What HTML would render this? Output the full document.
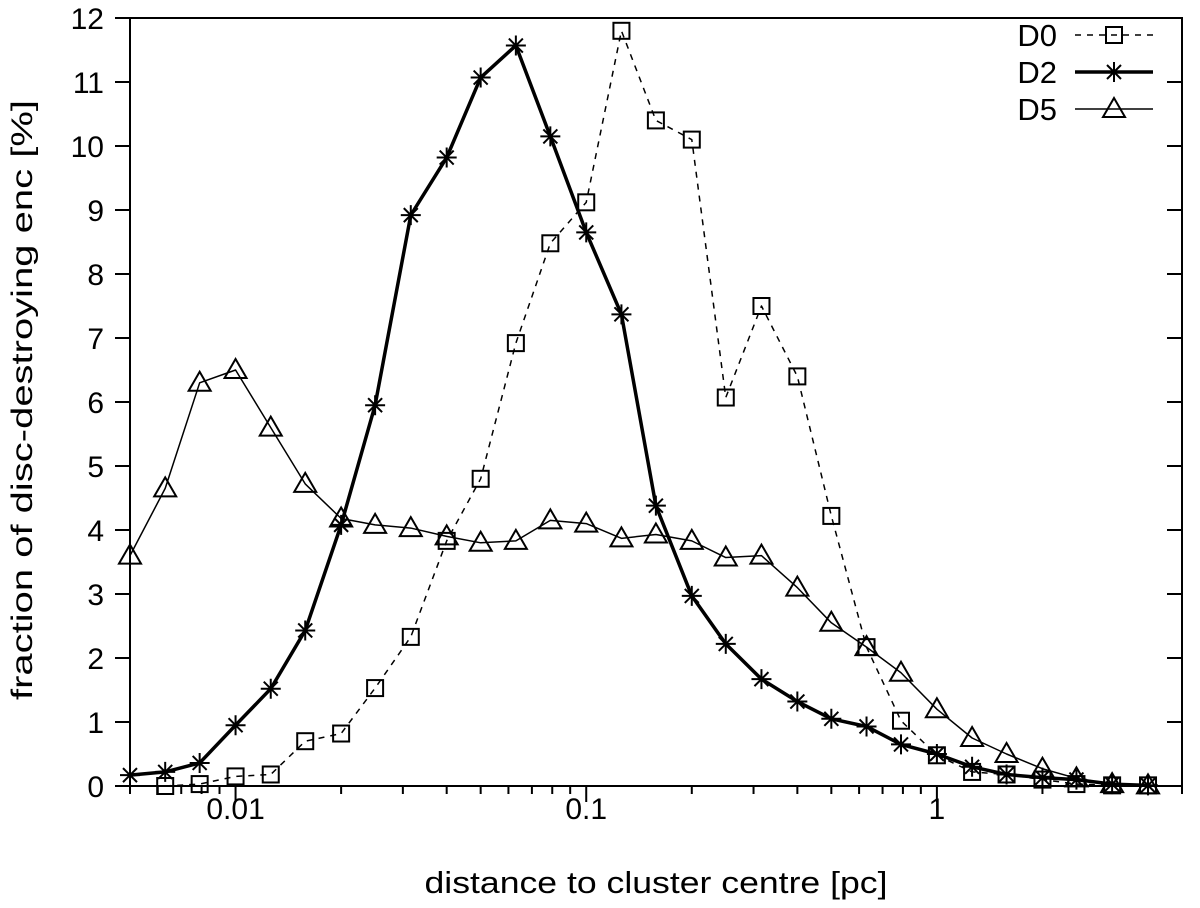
<!DOCTYPE html>
<html><head><meta charset="utf-8"><style>
body{margin:0;background:#fff}
svg{display:block;font-family:"Liberation Sans",Helvetica,sans-serif}
</style></head><body>
<svg id="chart" width="1200" height="908" viewBox="0 0 1200 908">
<g id="axes"></g>
<g id="series"></g>
<g id="legend"></g>
<text x="656" y="893" font-size="31" text-anchor="middle" textLength="463" lengthAdjust="spacingAndGlyphs">distance to cluster centre [pc]</text>
<text transform="translate(32,400) rotate(-90)" font-size="30" text-anchor="middle" textLength="600" lengthAdjust="spacingAndGlyphs">fraction of disc-destroying enc [%]</text>
</svg>
<script>
const xs = [0.005,0.0063,0.0079,0.01,0.0126,0.0158,0.02,0.025,0.0316,0.04,0.05,0.063,0.079,0.1,0.126,0.158,0.2,0.25,0.316,0.4,0.5,0.63,0.79,1,1.26,1.58,2,2.5,3.16,4];
const d0x = xs.slice(1);
const d0 = [0,0.03,0.15,0.18,0.7,0.82,1.53,2.33,3.83,4.8,6.92,8.48,9.12,11.8,10.4,10.1,6.07,7.5,6.4,4.22,2.17,1.02,0.48,0.22,0.18,0.1,0.03,0.01,0.01];
const d2 = [0.17,0.22,0.36,0.95,1.52,2.43,4.08,5.95,8.92,9.82,11.07,11.57,10.15,8.65,7.37,4.38,2.97,2.22,1.67,1.32,1.05,0.93,0.65,0.5,0.3,0.18,0.13,0.1,0.03,0.01];
const d5 = [3.6,4.65,6.3,6.5,5.6,4.72,4.18,4.08,4.03,3.9,3.8,3.83,4.15,4.1,3.87,3.93,3.83,3.57,3.6,3.1,2.55,2.17,1.77,1.2,0.75,0.5,0.27,0.12,0.03,0.01];
const yTicks = [0,1,2,3,4,5,6,7,8,9,10,11,12];
const xMajor = [0.01,0.1,1];
const xMajorLabels = ["0.01","0.1","1"];

const L=130,R=1182,T=18,B=786,xmin=0.005,xmax=5,ymax=12;
const X=v=>L+(Math.log10(v)-Math.log10(xmin))/(Math.log10(xmax)-Math.log10(xmin))*(R-L);
const Y=v=>B-v/ymax*(B-T);
const NS="http://www.w3.org/2000/svg";
function mk(tag,attrs,parent){const e=document.createElementNS(NS,tag);for(const k in attrs)e.setAttribute(k,attrs[k]);parent.appendChild(e);return e;}
const axes=document.getElementById('axes'),series=document.getElementById('series'),legend=document.getElementById('legend');

let f=mk('rect',{x:L,y:T,width:R-L,height:B-T,fill:'none',stroke:'#000','stroke-width':2},axes);


yTicks.forEach(v=>{
  const y=Y(v);
  let t=mk('line',{x1:L-15,x2:L,y1:y,y2:y,stroke:'#000','stroke-width':2},axes);
  
  
  mk('line',{x1:R-15,x2:R,y1:y,y2:y,stroke:'#000','stroke-width':2},axes);
  let tx=mk('text',{x:L-26,y:y+11,'font-size':30,'text-anchor':'end'},axes);
  tx.textContent=v;
  
  
});
for(let e=-3;e<=0;e++){for(let m=1;m<=9;m++){const v=m*Math.pow(10,e);if(v<xmin||v>xmax)continue;
  const x=X(v);const major=(m===1);
  let t=mk('line',{x1:x,x2:x,y1:B,y2:B+(major?16:8),stroke:'#000','stroke-width':2},axes);
  
  
}}
xMajor.forEach((v,i)=>{
  let tx=mk('text',{x:X(v),y:B+33,'font-size':30,'text-anchor':'middle'},axes);
  tx.textContent=xMajorLabels[i];
  
  
});

function marker(type,x,y,g){
  if(type==='sq')mk('rect',{x:x-8,y:y-8,width:16,height:16,fill:'none',stroke:'#000','stroke-width':2},g);
  else if(type==='star'){const r=10;mk('path',{d:`M${x-r} ${y}H${x+r}M${x} ${y-r}V${y+r}M${x-7} ${y-7}L${x+7} ${y+7}M${x-7} ${y+7}L${x+7} ${y-7}`,stroke:'#000','stroke-width':2},g);}
  else mk('path',{d:`M${x} ${y-11}L${x+11} ${y+8}L${x-11} ${y+8}Z`,fill:'none',stroke:'#000','stroke-width':2},g);
}
function draw(name,xv,yv,type,sw,dash){
  const g=mk('g',{},series);
  
  
  const pts=xv.map((x,i)=>X(x)+','+Y(yv[i])).join(' ');
  const pl=mk('polyline',{points:pts,fill:'none',stroke:'#000','stroke-width':sw,'stroke-dasharray':dash||'none','stroke-linejoin':'round'},g);
  
  
  xv.forEach((x,i)=>marker(type,X(x),Y(yv[i]),g));
}
draw('series-d5',xs,d5,'tri',1.5);
draw('series-d0',d0x,d0,'sq',1.5,'6 6');
draw('series-d2',xs,d2,'star',3.5);

[['D0','sq',1.5,'6 6',46],['D2','star',3.5,null,83],['D5','tri',1.5,null,120]].forEach(a=>{
  const g=mk('g',{},legend);
  
  
  const y=a[4]-11;
  let t=mk('text',{x:1057,y:a[4],'font-size':31,'text-anchor':'end'},g);t.textContent=a[0];
  mk('line',{x1:1075,x2:1153,y1:y,y2:y,stroke:'#000','stroke-width':a[2],'stroke-dasharray':a[3]||'none'},g);
  marker(a[1],1114,y,g);
});
</script>
</body></html>
